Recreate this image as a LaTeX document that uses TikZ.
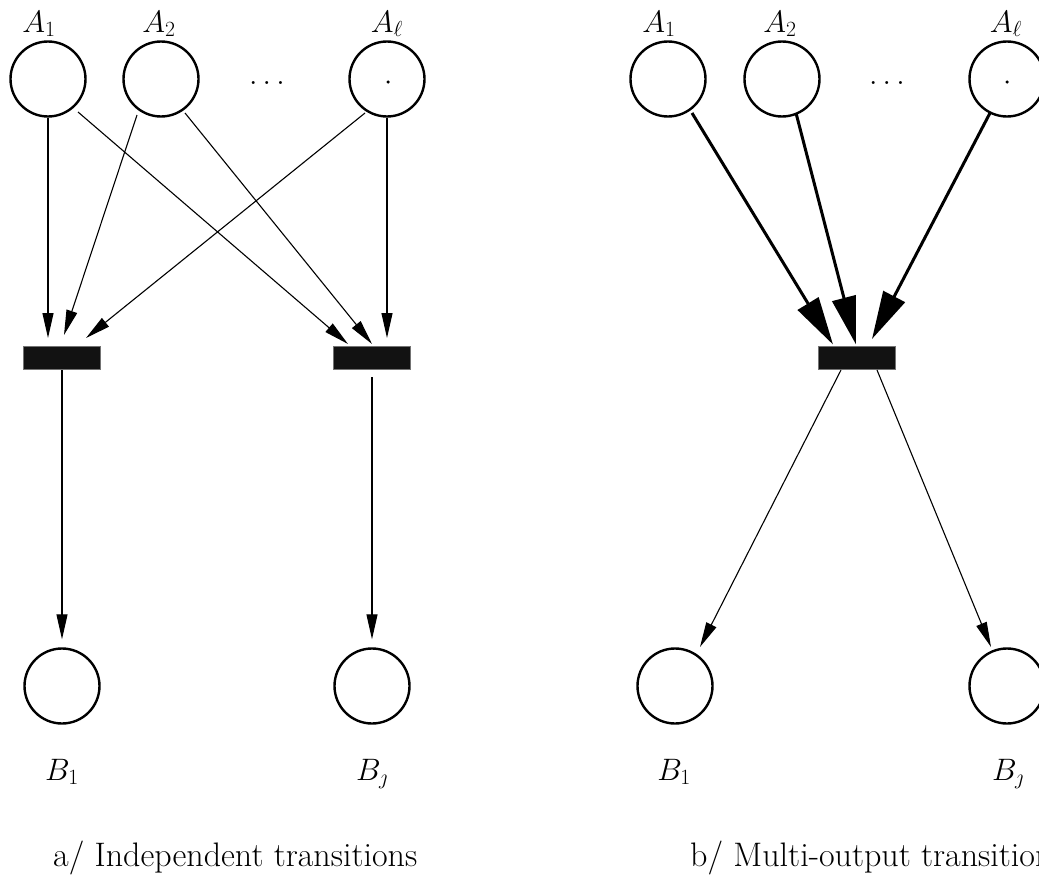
\RequirePackage{fix-cm}
\documentclass[tikz,border=0pt]{standalone}
\usetikzlibrary{arrows.meta}
\begin{document}
\begin{tikzpicture}[x=1pt,y=-1pt,
  place/.style={circle,draw,line width=2.4pt,minimum size=75pt,inner sep=0pt},
  trans/.style={rectangle,draw=black!55,line width=1pt,fill=black!93,
    minimum width=77pt,minimum height=23pt,inner sep=0pt},
  thinarc/.style={line width=1.1pt,-{Triangle[length=25pt,width=11pt]}},
  thickarc/.style={line width=3pt,-{Triangle[length=48pt,width=24pt]}},
  lab/.style={font=\fontsize{31}{37}\selectfont,anchor=base,inner sep=0pt},
  captext/.style={font=\fontsize{34}{40}\selectfont,anchor=base west,inner sep=0pt},
  dotmark/.style={circle,fill,inner sep=0pt,minimum size=3.5pt}]
\useasboundingbox (0,0) rectangle (1039,886);

% ---------- a/ independent transitions ----------
\node[place] (a1) at (48,79) {};
\node[place] (a2) at (161,79) {};
\node[place] (al) at (387,79) {};
\node[dotmark] (ald) at (388,82) {};
\node[lab] (la1) at (39,32) {$A_1$};
\node[lab] (la2) at (159,32) {$A_2$};
\node[lab] (lal) at (387,32) {$A_\ell$};
\node[lab] (dl) at (267,84) {$\ldots$};

\node[trans] (t1) at (62,358) {};
\node[trans] (t2) at (372,358) {};

\node[place] (b1) at (62,686) {};
\node[place] (bj) at (372,686) {};
\node[lab] (lb1) at (62,780) {$B_1$};
\node[lab] (lbj) at (372,780) {$B_\jmath$};

\draw[thinarc] (a1.south) -- ([xshift=-14pt,yshift=8pt]t1.north);
\draw[thinarc] ([xshift=30pt,yshift=-33pt]a1.center) -- ([xshift=-24pt,yshift=2pt]t2.north);
\draw[thinarc] ([xshift=-24pt,yshift=-36pt]a2.center) -- ([xshift=2pt,yshift=11pt]t1.north);
\draw[thinarc] ([xshift=24pt,yshift=-34pt]a2.center) -- ([xshift=0pt,yshift=2pt]t2.north);
\draw[thinarc] ([xshift=-22pt,yshift=-34pt]al.center) -- ([xshift=24pt,yshift=8pt]t1.north);
\draw[thinarc] (al.south) -- ([xshift=15pt,yshift=8pt]t2.north);
\draw[thinarc] (t1.south) -- ([yshift=8pt]b1.north);
\draw[thinarc,shorten <=7pt] (t2.south) -- ([yshift=8pt]bj.north);

\node[captext] (ca) at (53,866) {a/ Independent transitions};

% ---------- b/ multi-output transition ----------
\node[place] (c1) at (668,79) {};
\node[place] (c2) at (782,79) {};
\node[place] (cl) at (1007,79) {};
\node[dotmark] (cld) at (1007,82) {};
\node[lab] (lc1) at (659,32) {$A_1$};
\node[lab] (lc2) at (780,32) {$A_2$};
\node[lab] (lcl) at (1006,32) {$A_\ell$};
\node[lab] (dr) at (887,84) {$\ldots$};

\node[trans] (t) at (857,358) {};

\node[place] (d1) at (675,686) {};
\node[place] (dj) at (1007,686) {};
\node[lab] (ld1) at (674,780) {$B_1$};
\node[lab] (ldj) at (1008,780) {$B_\jmath$};

\draw[thickarc] ([xshift=24pt,yshift=-34pt]c1.center) -- ([xshift=-24pt,yshift=1.5pt]t.north);
\draw[thickarc] ([xshift=14pt,yshift=-34pt]c2.center) -- ([xshift=-1pt,yshift=1.5pt]t.north);
\draw[thickarc] ([xshift=-17pt,yshift=-34pt]cl.center) -- ([xshift=15pt,yshift=7pt]t.north);
\draw[thinarc] ([xshift=-16pt]t.south) -- ([xshift=25pt,yshift=39pt]d1.center);
\draw[thinarc] ([xshift=20pt]t.south) -- ([xshift=-16pt,yshift=39pt]dj.center);

\node[captext] (cb) at (690,866) {b/ Multi-output transitions};
\end{tikzpicture}
\end{document}
